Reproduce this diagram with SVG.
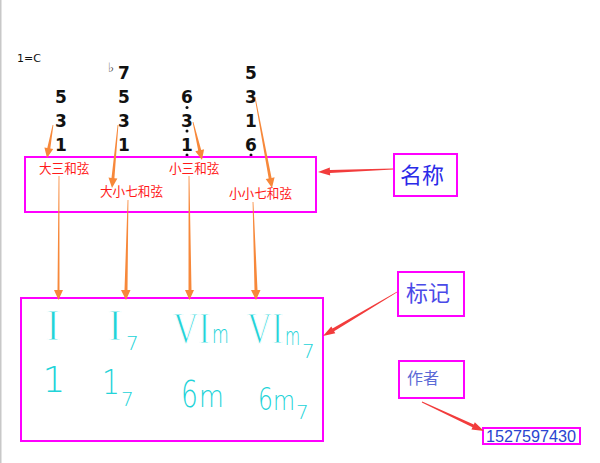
<svg xmlns="http://www.w3.org/2000/svg" width="600" height="463" viewBox="0 0 600 463">
<style>
.note{font-family:"DejaVu Sans",sans-serif;font-weight:bold;font-size:17px;fill:#111;text-anchor:middle}
.dot{fill:#111}
.lbl{font-family:"Liberation Sans","Noto Sans CJK SC",sans-serif;font-size:12.6px;fill:#ff1a1a}
.box{fill:none;stroke:#ff00ff;stroke-width:2}
.hw{font-family:"DejaVu Sans",sans-serif;font-weight:200;fill:#22d3d8}
.rom{font-family:"Liberation Serif",serif;fill:#22d3d8;stroke:#ffffff;stroke-width:1.2}
.oa{fill:#f7883a}
.ra{fill:#f23c3c}
</style>
<rect x="0" y="0" width="600" height="463" fill="#ffffff"/>
<rect x="0" y="0" width="1.5" height="463" fill="#c8c8c8"/>
<text x="17" y="62" font-family="DejaVu Sans,sans-serif" font-size="11" fill="#111">1=C</text>

<g id="chord1">
<text class="note" x="61" y="103">5</text>
<text class="note" x="61" y="127">3</text>
<text class="note" x="61" y="151">1</text>
</g>
<g id="chord2">
<text x="108" y="72" font-family="DejaVu Sans,sans-serif" font-size="13" fill="#444">♭</text>
<text class="note" x="124" y="79">7</text>
<text class="note" x="124" y="103">5</text>
<text class="note" x="124" y="127">3</text>
<text class="note" x="124" y="151">1</text>
</g>
<g id="chord3">
<text class="note" x="187" y="103">6</text>
<circle class="dot" cx="187" cy="107.5" r="1.5"/>
<text class="note" x="187" y="127">3</text>
<circle class="dot" cx="187" cy="131" r="1.5"/>
<text class="note" x="187" y="151">1</text>
<circle class="dot" cx="187" cy="155" r="1.5"/>
</g>
<g id="chord4">
<text class="note" x="251" y="79">5</text>
<text class="note" x="251" y="103">3</text>
<text class="note" x="251" y="127">1</text>
<text class="note" x="251" y="151">6</text>
<circle class="dot" cx="251" cy="155" r="1.5"/>
</g>

<g id="name-box">
<rect class="box" x="25" y="157" width="291" height="55"/>
<text class="lbl" x="39" y="173">大三和弦</text>
<text class="lbl" x="100" y="196">大小七和弦</text>
<text class="lbl" x="169" y="173">小三和弦</text>
<text class="lbl" x="229" y="198">小小七和弦</text>
</g>

<g id="name-tag">
<rect class="box" x="394" y="154" width="63" height="42"/>
<text x="400" y="183" font-family="Liberation Sans,Noto Sans CJK SC,sans-serif" font-size="22" fill="#2a2ae8">名称</text>
</g>

<g id="mark-box">
<rect class="box" x="21" y="298" width="302" height="143"/>
<text class="rom" x="53" y="340" font-size="44" text-anchor="middle">I</text>
<text class="rom" x="115" y="340" font-size="44" text-anchor="middle">I</text>
<text class="hw" x="126" y="350" font-size="20">7</text>
<text class="rom" transform="translate(173,343) scale(0.8,1)" font-size="44">VI</text>
<text class="hw" transform="translate(212,343) scale(0.72,1)" font-size="24">m</text>
<text class="rom" transform="translate(247,343) scale(0.78,1)" font-size="44">VI</text>
<text class="hw" transform="translate(285,345) scale(0.65,1)" font-size="24">m</text>
<text class="hw" x="302" y="358" font-size="20">7</text>
<text class="hw" x="54" y="392" font-size="36" text-anchor="middle">1</text>
<text class="hw" transform="translate(102,394) scale(0.83,1)" font-size="34">1</text>
<text class="hw" x="121" y="406" font-size="20">7</text>
<text class="hw" transform="translate(181,407) scale(0.7,1)" font-size="38">6</text>
<text class="hw" transform="translate(199,407) scale(0.85,1)" font-size="30">m</text>
<text class="hw" transform="translate(258,410) scale(0.73,1)" font-size="32">6</text>
<text class="hw" transform="translate(273,410) scale(0.87,1)" font-size="26">m</text>
<text class="hw" x="296" y="419" font-size="20">7</text>
</g>

<g id="mark-tag">
<rect class="box" x="398" y="272" width="66" height="44"/>
<text x="406" y="301" font-family="Liberation Sans,Noto Sans CJK SC,sans-serif" font-size="22" fill="#4a4ae8">标记</text>
</g>

<g id="author-tag">
<rect class="box" x="399" y="361" width="65" height="37"/>
<text x="407" y="384" font-family="Liberation Sans,Noto Sans CJK SC,sans-serif" font-size="16" fill="#5b6ad6">作者</text>
</g>

<g id="id-tag">
<rect class="box" x="483" y="428" width="97" height="16"/>
<text x="486" y="441.5" font-family="Liberation Sans,sans-serif" font-size="16.2" fill="#2a44d0">1527597430</text>
</g>

<g id="connectors">
<polygon class="oa" points="52.6,124.9 47.3,147.9 44.4,147.4 47,158 53.2,149 50.3,148.5 53.4,125.1"/>
<polygon class="oa" points="117.6,125 111.5,177.9 108.5,177.6 112,188 117.4,178.5 114.4,178.2 118.4,125"/>
<polygon class="oa" points="192.6,122.1 198.2,150.6 195.3,151.3 202,160 204.1,149.2 201.2,149.9 193.4,121.9"/>
<polygon class="oa" points="254.6,97.1 268.7,178.4 265.7,179 272,188 274.6,177.3 271.6,177.9 255.4,96.9"/>
<polygon class="oa" points="58.6,176 57.5,290 54,290 58.5,300 63,290 59.5,290 59.4,176"/>
<polygon class="oa" points="127.6,200 124.5,290 121,290 126,300 130.5,290 127.5,290 128.4,200"/>
<polygon class="oa" points="188.6,176 188.5,290 185,290 189.5,300 194,290 191.5,290 189.4,176"/>
<polygon class="oa" points="252.6,202 254.5,290 251,290 256,300 260.5,290 257.5,290 253.4,202"/>
<polygon class="ra" points="393,168.6 329.9,170 329.8,167.5 318,172 330.2,175.5 330,173 393,169.4"/>
<polygon class="ra" points="396.8,291.7 332.5,328.6 331.3,326.4 323,336 335.3,333.3 334.1,331.2 397.2,292.3"/>
<polygon class="ra" points="421.8,402.4 472.5,427.3 471.4,429.5 484,431 474.8,422.3 473.8,424.6 422.2,401.6"/>
</g>
</svg>
